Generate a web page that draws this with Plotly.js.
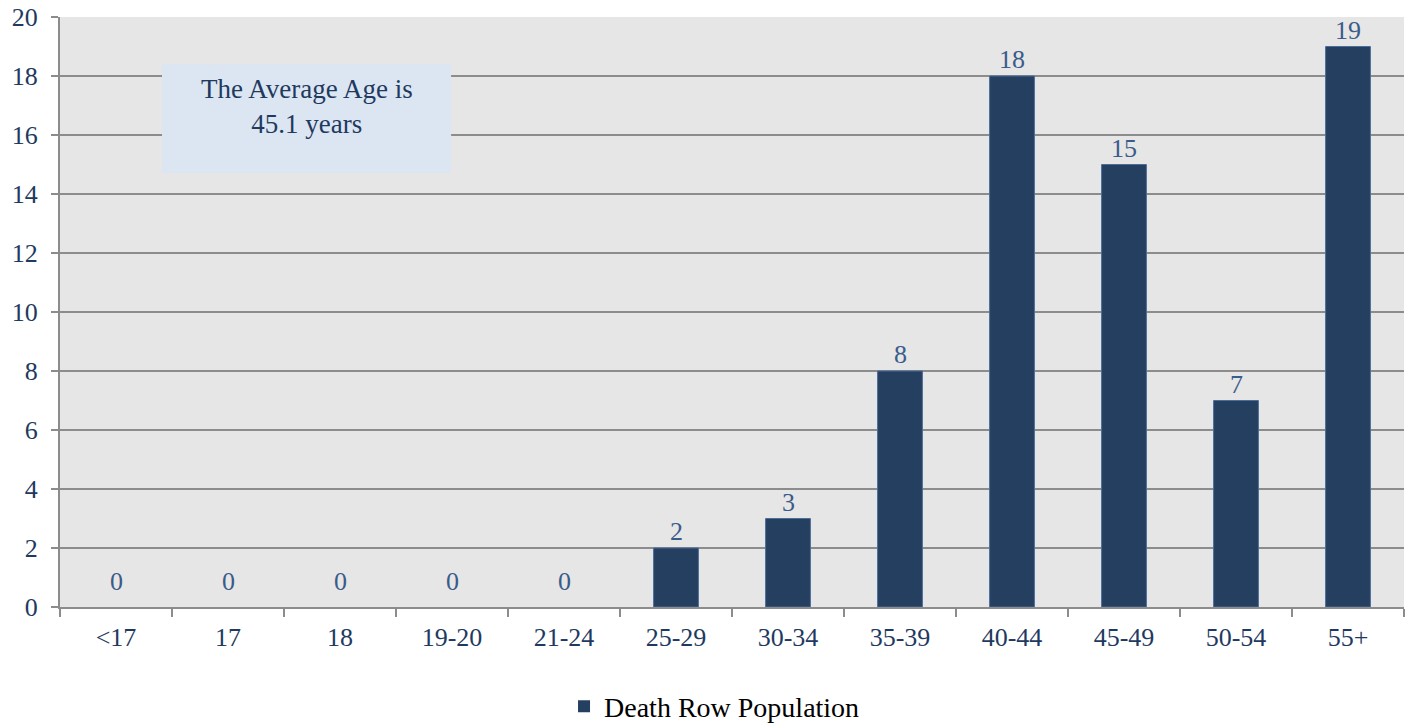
<!DOCTYPE html>
<html>
<head>
<meta charset="utf-8">
<script src="https://cdn.plot.ly/plotly-3.0.1.min.js"></script>
<style>html,body{margin:0;padding:0;background:#fff;}#chart{width:1413px;height:727px;}</style>
</head>
<body>
<div id="chart"></div>
<script>
const categories = ["<17", "17", "18", "19-20", "21-24", "25-29", "30-34", "35-39", "40-44", "45-49", "50-54", "55+"];
const population = [0, 0, 0, 0, 0, 2, 3, 8, 18, 15, 7, 19];
const seriesName = "Death Row Population";
const noteText = "The Average Age is<br>45.1 years";
const yTicks = [0, 2, 4, 6, 8, 10, 12, 14, 16, 18, 20];

const FONT = "Liberation Serif, DejaVu Serif, serif";

const labelAnns = categories.map((c, i) => ({
  x: i, y: population[i], xref: 'x', yref: 'y',
  text: String(population[i]), showarrow: false,
  yanchor: 'bottom', yshift: population[i] === 0 ? 9 : 0,
  font: {family: FONT, size: 26, color: '#3b5b8a'}
}));

const data = [{
  type: 'bar',
  x: categories,
  y: population,
  name: seriesName,
  marker: {color: '#253f60', line: {color: '#4a6d9a', width: population.map(v => v > 0 ? 1 : 0)}},
  hoverinfo: 'x+y'
}];

const layout = {
  width: 1413, height: 727,
  margin: {l: 60, r: 9, t: 17, b: 120, autoexpand: false},
  paper_bgcolor: '#ffffff',
  plot_bgcolor: '#e6e6e6',
  bargap: 0.6,
  showlegend: true,
  legend: {orientation: 'h', x: 0.487, xanchor: 'center', yref: 'container', y: 0.028, yanchor: 'middle',
           font: {family: FONT, size: 28, color: '#000000'}},
  xaxis: {
    type: 'category', tickson: 'boundaries', ticks: 'outside', ticklen: 8, tickwidth: 2, tickcolor: '#8c8c8c',
    showline: true, linecolor: '#8c8c8c', linewidth: 2, showgrid: false, ticklabelstandoff: 6,
    tickfont: {family: FONT, size: 26, color: '#1f3a60'}
  },
  yaxis: {
    range: [0, 20], tickvals: yTicks, ticks: 'outside', ticklen: 7, tickwidth: 2, tickcolor: '#8c8c8c',
    showline: true, linecolor: '#8c8c8c', linewidth: 2, ticklabelstandoff: 8,
    showgrid: true, gridcolor: '#8c8c8c', gridwidth: 2, zeroline: false,
    tickfont: {family: FONT, size: 26, color: '#1f3a60'}
  },
  shapes: [{
    type: 'rect', xref: 'paper', yref: 'paper', x0: 0.0759, x1: 0.291, y0: 0.7356, y1: 0.920,
    fillcolor: '#dce6f2', line: {width: 0}, layer: 'above'
  }],
  annotations: labelAnns.concat([{
    xref: 'paper', yref: 'paper', x: 0.1835, y: 0.907, xanchor: 'center', yanchor: 'top',
    text: noteText, showarrow: false, align: 'center',
    font: {family: FONT, size: 27, color: '#1f3a60'}
  }])
};

Plotly.newPlot('chart', data, layout, {displayModeBar: false, staticPlot: true});
</script>
</body>
</html>
